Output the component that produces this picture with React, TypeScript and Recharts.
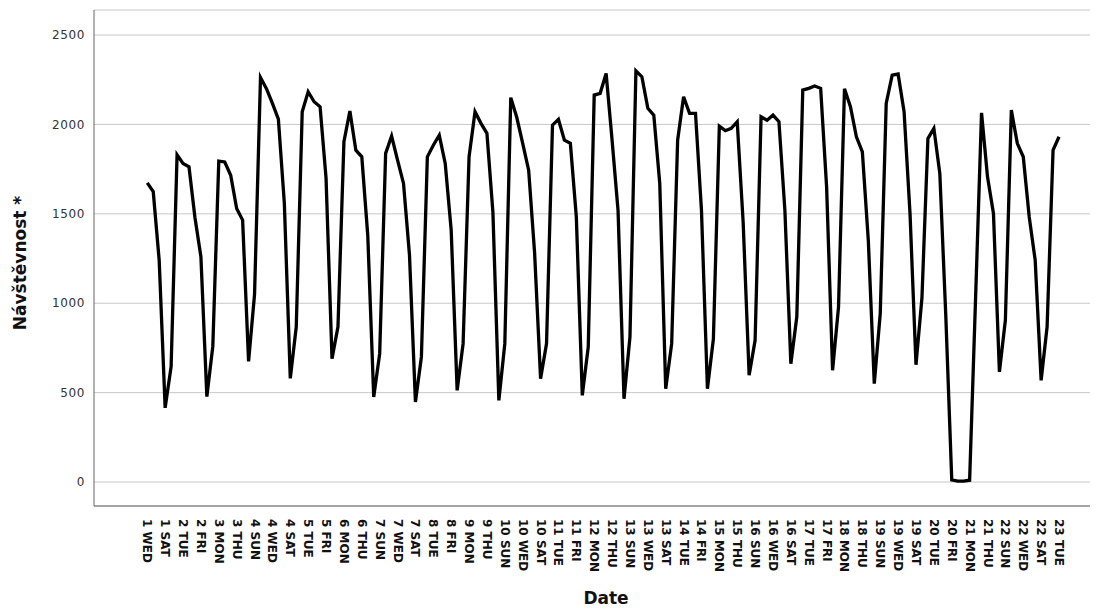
import { LineChart, Line, XAxis, YAxis, CartesianGrid } from 'recharts';

// daily visits, week 1 Wednesday .. week 23 Tuesday
const VISITS = [
    1673, 1625, 1240, 415, 645, 1830, 1782, 1763, 1480, 1260,
    478, 760, 1795, 1790, 1716, 1530, 1465, 675, 1050, 2262,
    2200, 2118, 2030, 1560, 580, 868, 2071, 2183, 2127, 2099,
    1700, 690, 868, 1903, 2075, 1856, 1819, 1380, 476, 718,
    1838, 1935, 1800, 1670, 1270, 448, 700, 1819, 1884, 1940,
    1782, 1409, 513, 774, 1819, 2071, 2006, 1950, 1510, 457,
    774, 2150, 2040, 1894, 1744, 1280, 578, 774, 1996, 2028,
    1912, 1894, 1483, 485, 756, 2164, 2174, 2285, 1912, 1520,
    466, 812, 2300, 2267, 2090, 2052, 1670, 522, 774, 1912,
    2155, 2062, 2062, 1520, 522, 800, 1990, 1965, 1978, 2015,
    1450, 597, 793, 2043, 2024, 2052, 2015, 1520, 662, 924,
    2192, 2202, 2215, 2202, 1651, 625, 980, 2200, 2099, 1931,
    1847, 1350, 550, 942, 2118, 2276, 2282, 2071, 1500, 656,
    1031, 1921, 1978, 1725, 930, 12, 5, 5, 10, 1030,
    2065, 1707, 1502, 616, 905, 2080, 1894, 1819, 1483, 1241,
    569, 868, 1856, 1931,
];

// x tick labels, one every third day
const TICK_LABELS = [
    '1 WED', '1 SAT', '2 TUE', '2 FRI', '3 MON', '3 THU', '4 SUN', '4 WED', '4 SAT', '5 TUE',
    '5 FRI', '6 MON', '6 THU', '7 SUN', '7 WED', '7 SAT', '8 TUE', '8 FRI', '9 MON', '9 THU',
    '10 SUN', '10 WED', '10 SAT', '11 TUE', '11 FRI', '12 MON', '12 THU', '13 SUN', '13 WED', '13 SAT',
    '14 TUE', '14 FRI', '15 MON', '15 THU', '16 SUN', '16 WED', '16 SAT', '17 TUE', '17 FRI', '18 MON',
    '18 THU', '19 SUN', '19 WED', '19 SAT', '20 TUE', '20 FRI', '21 MON', '21 THU', '22 SUN', '22 WED',
    '22 SAT', '23 TUE',
];

const Y_TICKS = [0, 500, 1000, 1500, 2000, 2500];

const data = VISITS.map((v, i) => ({ idx: i, visits: v }));
const xTicks = TICK_LABELS.map((_, i) => i * 3);

const DayTick = ({ x, y, payload }: any) => (
    <text
        transform={`translate(${x},${y + 5}) rotate(90)`}
        textAnchor="start"
        dominantBaseline="central"
        fontSize={12}
        fontWeight="bold"
        fontFamily="DejaVu Sans"
        fill="#111"
    >
        {TICK_LABELS[Math.round(payload.value / 3)]}
    </text>
);

export default function App() {
    return (
        <div style={{ position: 'absolute', left: 0, top: 0, width: 1104, height: 610, background: '#fff', fontFamily: 'DejaVu Sans' }}>
            <LineChart
                width={1104}
                height={610}
                data={data}
                margin={{ top: 10, right: 14, left: 34, bottom: 24 }}
            >
                <CartesianGrid vertical={false} stroke="#c8c8c8" strokeWidth={1} />
                <XAxis
                    type="number"
                    dataKey="idx"
                    domain={[-8.94, 158.2]}
                    allowDataOverflow
                    ticks={xTicks}
                    interval={0}
                    tick={<DayTick />}
                    tickLine={false}
                    axisLine={{ stroke: '#666' }}
                    height={80}
                />
                <YAxis
                    type="number"
                    domain={[-134, 2640]}
                    allowDataOverflow
                    ticks={Y_TICKS}
                    width={60}
                    tickLine={false}
                    tickSize={6}
                    tickMargin={3}
                    axisLine={{ stroke: '#666' }}
                    tick={{ fontSize: 12, fill: '#333', fontFamily: 'DejaVu Sans', letterSpacing: 0.6 }}
                />
                <Line
                    type="linear"
                    dataKey="visits"
                    stroke="#000"
                    strokeWidth={3.3}
                    dot={false}
                    isAnimationActive={false}
                />
            </LineChart>
            <div
                style={{
                    position: 'absolute', left: 20, top: 263, transform: 'translate(-50%, -50%) rotate(-90deg)',
                    fontSize: 17, fontWeight: 'bold', color: '#111', whiteSpace: 'nowrap',
                }}
            >
                Návštěvnost *
            </div>
            <div
                style={{
                    position: 'absolute', left: 606, top: 598, transform: 'translate(-50%, -50%)',
                    fontSize: 17, fontWeight: 'bold', color: '#111', whiteSpace: 'nowrap',
                }}
            >
                Date
            </div>
        </div>
    );
}
